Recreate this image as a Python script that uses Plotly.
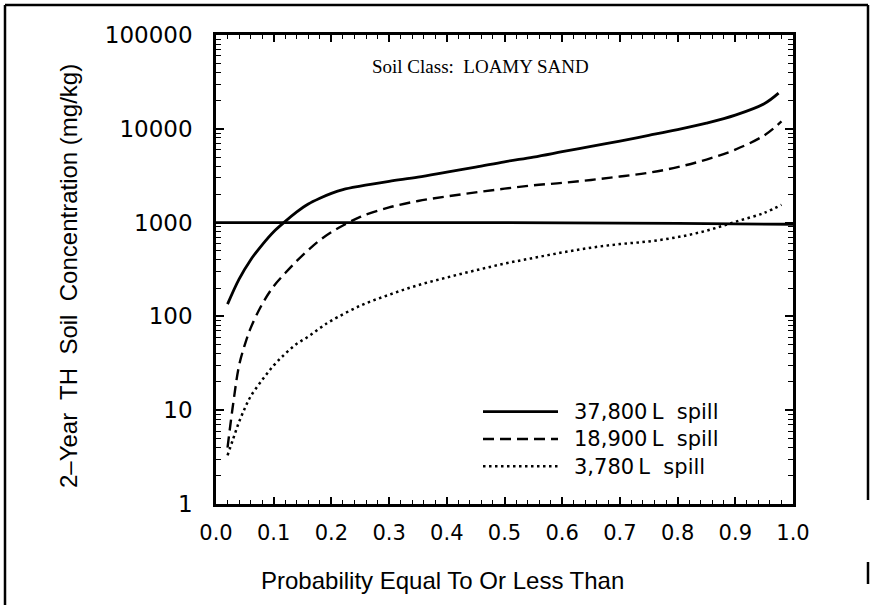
import plotly.graph_objects as go

# ---------------- data ----------------
p_solid = [0.02, 0.04, 0.06, 0.08, 0.10, 0.12, 0.14, 0.16, 0.18, 0.20, 0.22, 0.25, 0.30, 0.35,
           0.40, 0.45, 0.50, 0.55, 0.60, 0.65, 0.70, 0.75, 0.80, 0.85, 0.90, 0.95, 0.975]
c_37800 = [135, 250, 400, 580, 800, 1030, 1300, 1580, 1820, 2050, 2250, 2450, 2750, 3050,
           3450, 3900, 4450, 5000, 5700, 6500, 7400, 8500, 9800, 11500, 14000, 18500, 24000]

p_dash = [0.02, 0.03, 0.04, 0.05, 0.06, 0.08, 0.10, 0.12, 0.14, 0.16, 0.18, 0.20, 0.22, 0.25,
          0.30, 0.35, 0.40, 0.45, 0.50, 0.55, 0.60, 0.65, 0.70, 0.75, 0.80, 0.85, 0.90, 0.95, 0.98]
c_18900 = [4, 12, 30, 50, 75, 135, 210, 290, 390, 510, 650, 790, 930, 1150,
           1450, 1700, 1900, 2100, 2300, 2500, 2650, 2850, 3100, 3400, 3900, 4700, 6000, 8500, 12000]

p_dot = [0.02, 0.03, 0.04, 0.05, 0.06, 0.08, 0.10, 0.12, 0.14, 0.16, 0.18, 0.20, 0.25, 0.30,
         0.35, 0.40, 0.45, 0.50, 0.55, 0.60, 0.65, 0.70, 0.75, 0.80, 0.85, 0.90, 0.95, 0.98]
c_3780 = [3.3, 5, 7.5, 10.5, 14, 21, 30, 40, 51, 61, 75, 90, 130, 170,
          215, 260, 310, 365, 420, 480, 540, 590, 630, 700, 820, 1020, 1270, 1550]

p_limit = [0.0, 0.5, 0.8, 1.0]
c_limit = [1000, 1000, 980, 960]

series_names = ["37,800\u2009L\u00a0\u00a0spill", "18,900\u2009L\u00a0\u00a0spill", "3,780\u2009L\u00a0\u00a0spill"]
x_ticks = [0.0, 0.1, 0.2, 0.3, 0.4, 0.5, 0.6, 0.7, 0.8, 0.9, 1.0]
x_tick_text = ["0.0", "0.1", "0.2", "0.3", "0.4", "0.5", "0.6", "0.7", "0.8", "0.9", "1.0"]
y_ticks = [1, 10, 100, 1000, 10000, 100000]
y_tick_text = ["1", "10", "100", "1000", "10000", "100000"]

# ---------------- layout geometry (pixels) ----------------
W, H = 871, 605
L, R, T, B = 216, 793, 35, 504
PW, PH = R - L, B - T


def px(x):
    return (x - L) / PW


def py(y):
    return (B - y) / PH


styles = [dict(color="black", width=2.8),
          dict(color="black", width=2.4, dash="11px,6px"),
          dict(color="black", width=2.5, dash="2.5px,3.5px")]

fig = go.Figure()
fig.add_trace(go.Scatter(x=p_limit, y=c_limit, mode="lines", showlegend=False,
                         line=dict(color="black", width=2.8)))
for xs, ys, name, st in [(p_solid, c_37800, series_names[0], styles[0]),
                         (p_dash, c_18900, series_names[1], styles[1]),
                         (p_dot, c_3780, series_names[2], styles[2])]:
    fig.add_trace(go.Scatter(x=xs, y=ys, mode="lines", name=name, showlegend=False,
                             line=dict(shape="spline", **st)))

tickfont_x = dict(family="DejaVu Sans", size=21, color="black")
tickfont_y = dict(family="DejaVu Sans", size=23, color="black")

fig.update_layout(
    width=W, height=H,
    margin=dict(l=L, r=W - R, t=T, b=H - B),
    paper_bgcolor="white", plot_bgcolor="white",
    showlegend=False,
    xaxis=dict(range=[0, 1], tickmode="array", tickvals=x_ticks, ticktext=x_tick_text,
               ticks="inside", ticklen=7, tickwidth=1.5, tickcolor="black",
               showline=True, linewidth=2.5, linecolor="black", mirror="allticks",
               showgrid=False, zeroline=False, tickfont=tickfont_x, ticklabelstandoff=8,
               minor=dict(ticks="inside", ticklen=4, tickwidth=1, tickcolor="black",
                          dtick=0.02, showgrid=False)),
    yaxis=dict(type="log", range=[0, 5], tickmode="array", tickvals=y_ticks, ticktext=y_tick_text,
               ticks="inside", ticklen=8, tickwidth=1.5, tickcolor="black",
               showline=True, linewidth=2.5, linecolor="black", mirror="allticks",
               showgrid=False, zeroline=False, tickfont=tickfont_y, ticklabelstandoff=16,
               minor=dict(ticks="inside", ticklen=5, tickwidth=1, tickcolor="black",
                          dtick="D1", showgrid=False)),
)

# legend (drawn manually: long sample lines, tight rows, one multi-line text block)
LEG_FONT = 21
row_gap = LEG_FONT * 1.3
mid_y = 439
row_y = [mid_y - row_gap, mid_y, mid_y + row_gap]
for st, yy in zip(styles, row_y):
    fig.add_shape(type="line", xref="paper", yref="paper", x0=px(483), x1=px(558),
                  y0=py(yy), y1=py(yy), line=st)
fig.add_annotation(text="<br>".join(series_names), xref="paper", yref="paper",
                   x=px(572), y=py(mid_y), xanchor="left", yanchor="middle", align="left",
                   showarrow=False,
                   font=dict(family="DejaVu Sans", size=LEG_FONT, color="black"))

# annotations
fig.add_annotation(text="Soil Class:\u00a0 LOAMY SAND", xref="paper", yref="paper",
                   x=px(370), y=py(66), xanchor="left", yanchor="middle", showarrow=False,
                   font=dict(family="Liberation Serif", size=19, color="black"))
fig.add_annotation(text="2\u2013Year\u00a0 TH\u00a0 Soil\u00a0 Concentration (mg/kg)",
                   xref="paper", yref="paper", x=px(68), y=py(276), textangle=-90,
                   xanchor="center", yanchor="middle", showarrow=False,
                   font=dict(family="Liberation Sans", size=24, color="black"))
fig.add_annotation(text="Probability Equal To Or Less Than", xref="paper", yref="paper",
                   x=px(442), y=py(580), xanchor="center", yanchor="middle", showarrow=False,
                   font=dict(family="Liberation Sans", size=24, color="black"))

# outer frame (scanned page border)
frame = dict(xref="paper", yref="paper", line=dict(color="black", width=2.5))
fig.add_shape(type="line", x0=px(5), x1=px(5), y0=py(5), y1=py(605), **frame)
fig.add_shape(type="line", x0=px(5), x1=px(868), y0=py(5), y1=py(5), **frame)
fig.add_shape(type="line", x0=px(868), x1=px(868), y0=py(5), y1=py(500), **frame)
fig.add_shape(type="line", x0=px(868), x1=px(868), y0=py(562), y1=py(584), **frame)

fig.write_html("out.html")
